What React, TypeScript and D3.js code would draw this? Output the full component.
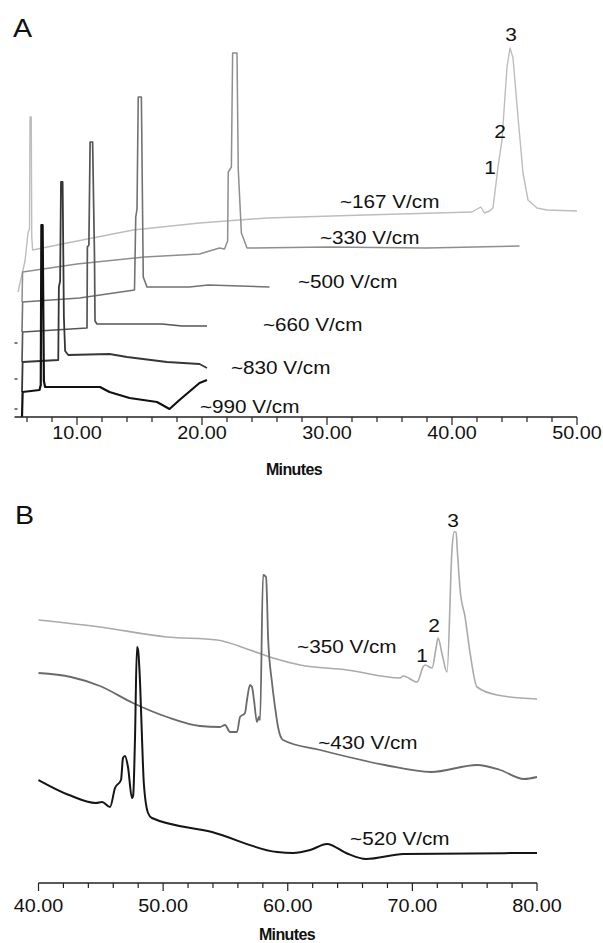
import React from "react";
import * as d3 from "d3";

// ---------- Panel A data: [minutes, signal] ----------
const traceA167: [number, number][] = [
  [5.28, 31.25], [5.84, 39], [6.08, 46], [6.2, 47], [6.24, 75], [6.34, 75], [6.38, 45], [6.45, 41.75],
  [9.2, 43.5], [14.5, 46.75], [19.8, 48.5], [25.2, 49.75], [33, 50.5], [41.6, 51.25], [42.3, 52.5],
  [42.6, 51], [43.0, 51.5], [43.28, 52.25], [43.68, 62.5], [44.0, 69.25], [44.4, 87.5], [44.64, 92.25],
  [44.88, 89.75], [45.28, 75], [45.68, 61], [46.08, 54.25], [46.8, 52.25], [47.6, 51.75], [50.0, 51.5],
];
const traceA330: [number, number][] = [
  [5.6, 28.75], [5.65, 36.25], [10, 38.25], [15.4, 40], [19.8, 40.75], [21.4, 42.25], [21.8, 42],
  [22.05, 44], [22.1, 61.25], [22.35, 62.5], [22.45, 91], [22.8, 91], [22.9, 62], [23.15, 46],
  [23.6, 42.25], [30, 42.5], [38, 42.25], [45.4, 42.75],
];
const traceA500: [number, number][] = [
  [5.6, 21.25], [5.65, 28.75], [10.2, 29.75], [14.6, 31.75], [14.7, 50], [14.8, 52], [14.9, 80],
  [15.15, 80], [15.25, 50], [15.3, 35], [15.6, 32.5], [19, 32.5], [20.5, 33], [25.4, 32.5],
];
const traceA660: [number, number][] = [
  [5.6, 13.75], [5.65, 21.25], [10.8, 22.25], [10.83, 42.5], [10.95, 43], [11.05, 68.75], [11.25, 68.75],
  [11.4, 40], [11.44, 24], [11.6, 23.25], [16.8, 23.25], [18.4, 22.75], [20.4, 22.75],
];
const traceA830: [number, number][] = [
  [5.6, 6.25], [5.65, 13.75], [8.5, 14.25], [8.55, 32.5], [8.65, 34], [8.72, 58.75], [8.85, 58.75],
  [8.95, 25], [9.05, 16.5], [9.3, 15.5], [12.6, 15.75], [14.0, 15], [17.2, 13.75], [19.8, 13.25], [20.4, 12.25],
];
const traceA990: [number, number][] = [
  [5.6, 0], [5.65, 6.25], [7.0, 6.75], [7.1, 8], [7.15, 48], [7.25, 48], [7.35, 9], [7.45, 7.5],
  [11.84, 7.5], [12.6, 6.25], [14.2, 4.75], [16.4, 3.75], [17.4, 2], [18.2, 4.25], [19.8, 8.5], [20.4, 9.25],
];
const leftMarksA = [2, 9.5, 18.5];

// ---------- Panel B data ----------
const traceB350: [number, number][] = [
  [40, 65.75], [44.93, 64], [50.31, 61.5], [54.33, 60.75], [56.97, 58.25], [58.82, 56.25], [60.99, 54.5],
  [64.76, 53.25], [69.02, 51.25], [69.26, 51.75], [70.38, 50.25], [70.86, 54], [71.02, 54.5], [71.58, 53.75],
  [71.9, 58.75], [72.06, 61.25], [72.4, 57], [72.78, 52.75], [73.19, 84], [73.35, 87.75], [73.51, 87.75],
  [73.59, 84], [73.83, 73.25], [74.23, 66.5], [74.63, 57.5], [75.19, 49], [76.8, 47], [80, 46],
];
const traceB430: [number, number][] = [
  [40, 52.5], [42.6, 51.5], [44.93, 49.25], [47.58, 45], [50.31, 41.5], [52.95, 39.25], [54.56, 39],
  [54.97, 39.5], [55.37, 37.75], [55.93, 37.75], [56.17, 41.5], [56.57, 42.5], [56.73, 45.75], [56.97, 49.5],
  [57.13, 49], [57.29, 45.75], [57.53, 40.25], [57.69, 41.5], [57.78, 40.75], [58.02, 77], [58.26, 76.5],
  [58.34, 70.75], [58.42, 61.5], [58.74, 50], [58.98, 44], [59.22, 39], [59.62, 35.75], [62.6, 33.25],
  [67.8, 29.5], [71.5, 27.75], [75.2, 29.5], [77.04, 28.25], [78.96, 26], [80, 26.5],
];
const traceB520: [number, number][] = [
  [40, 25.75], [42.45, 22], [44.61, 20], [45.1, 20.25], [45.74, 19], [46.14, 23.75], [46.62, 25.75],
  [46.78, 31.25], [46.94, 31.75], [47.18, 29], [47.5, 21.25], [47.6, 22], [47.74, 35.75], [47.9, 59],
  [47.99, 58.25], [48.15, 50], [48.31, 35.75], [48.45, 25], [48.79, 17.5], [49.1, 16.25], [53.92, 12.75],
  [59.14, 7.75], [60.43, 7.5], [61.8, 8.25], [63.15, 9.75], [64.68, 7.5], [66.28, 6], [69.3, 7.25], [80, 7.5],
];

// ---------- Axis ticks / labels ----------
const tickLabelsA = [10, 20, 30, 40, 50];
const tickLabelsB = [40, 50, 60, 70, 80];
const seriesNamesA = ["~167 V/cm", "~330 V/cm", "~500 V/cm", "~660 V/cm", "~830 V/cm", "~990 V/cm"];
const seriesNamesB = ["~350 V/cm", "~430 V/cm", "~520 V/cm"];
const peakNames = ["1", "2", "3"];

// annotation anchors (minutes, signal)
const nameAnchorsA: [number, number][] = [[31.04, 53.75], [29.44, 44.75], [27.68, 33.75], [24.88, 23], [22.32, 12.25], [19.84, 2.5]];
const peakAnchorsA: [number, number][] = [[43.04, 62.5], [43.84, 71.5], [44.72, 95.75]];
const nameAnchorsB: [number, number][] = [[60.75, 59.1], [62.44, 35], [65.0, 11]];
const peakAnchorsB: [number, number][] = [[70.78, 57], [71.74, 64.5], [73.27, 90.75]];

const FONT = "'Liberation Sans', Arial, Helvetica, sans-serif";
const fmt = d3.format(".2f");

const colorsA = ["#bdbdbd", "#8e8e8e", "#727272", "#565656", "#363636", "#111111"];
const colorsB = ["#aaaaaa", "#6a6a6a", "#151515"];

function Stretch({ x, y, children, size = 18, anchor = "start", sx = 1.15, weight = "normal", ls = 0 }: any) {
  return (
    <text
      transform={`translate(${x},${y}) scale(${sx},1)`}
      fontFamily={FONT}
      fontSize={size}
      fontWeight={weight}
      letterSpacing={ls}
      textAnchor={anchor}
      dominantBaseline="central"
      fill="#111"
    >
      {children}
    </text>
  );
}

export default function App() {
  const xA = d3.scaleLinear().domain([5, 50]).range([14.5, 577]);
  const yA = d3.scaleLinear().domain([0, 100]).range([417, 17]);
  const xB = d3.scaleLinear().domain([40, 80]).range([38.5, 537]);
  const yB = d3.scaleLinear().domain([0, 100]).range([883, 483]);

  const lineA = d3.line<[number, number]>().x((d) => xA(d[0])).y((d) => yA(d[1]));
  const lineB = d3
    .line<[number, number]>()
    .x((d) => xB(d[0]))
    .y((d) => yB(d[1]))
    .curve(d3.curveMonotoneX);

  const tracesA = [traceA167, traceA330, traceA500, traceA660, traceA830, traceA990];
  const tracesB = [traceB350, traceB430, traceB520];
  const widthsA = [1.4, 1.5, 1.6, 1.7, 1.8, 2.2];
  const widthsB = [1.6, 1.8, 2.0];

  const ticksA = d3.range(6, 51, 2);
  const ticksB = d3.range(40, 81, 2);

  return (
    <svg
      width={603}
      height={943}
      style={{ position: "absolute", left: 0, top: 0, background: "#fff" }}
    >
      <rect x={0} y={0} width={603} height={943} fill="#fff" />
      {/* Panel A */}
      <Stretch x={13} y={28} size={26} sx={1.1}>A</Stretch>
      {tracesA.map((t, i) => (
        <path key={i} d={lineA(t) || ""} fill="none" stroke={colorsA[i]} strokeWidth={widthsA[i]} strokeLinejoin="round" />
      ))}
      {leftMarksA.map((v, i) => (
        <line key={i} x1={xA(5)} x2={xA(5) + 3} y1={yA(v)} y2={yA(v)} stroke="#222" strokeWidth={1.2} />
      ))}
      <line x1={xA(5)} x2={xA(50)} y1={yA(0)} y2={yA(0)} stroke="#222" strokeWidth={1.4} />
      {ticksA.map((v) => (
        <line key={v} x1={xA(v)} x2={xA(v)} y1={yA(0)} y2={yA(0) + (v % 10 === 0 ? 8 : 5)} stroke="#222" strokeWidth={1.2} />
      ))}
      {tickLabelsA.map((v) => (
        <Stretch key={v} x={xA(v)} y={433} anchor="middle" sx={1.1}>{fmt(v)}</Stretch>
      ))}
      <Stretch x={294} y={469} anchor="middle" size={16} sx={1} weight="bold" ls={-0.6}>Minutes</Stretch>
      {seriesNamesA.map((n, i) => (
        <Stretch key={n} x={xA(nameAnchorsA[i][0])} y={yA(nameAnchorsA[i][1])}>{n}</Stretch>
      ))}
      {peakNames.map((n, i) => (
        <Stretch key={n} x={xA(peakAnchorsA[i][0])} y={yA(peakAnchorsA[i][1])} anchor="middle" size={19} sx={1.1}>{n}</Stretch>
      ))}

      {/* Panel B */}
      <Stretch x={15} y={515} size={26} sx={1.1}>B</Stretch>
      {tracesB.map((t, i) => (
        <path key={i} d={lineB(t) || ""} fill="none" stroke={colorsB[i]} strokeWidth={widthsB[i]} strokeLinejoin="round" />
      ))}
      <line x1={xB(40)} x2={xB(80)} y1={yB(0)} y2={yB(0)} stroke="#222" strokeWidth={1.4} />
      {ticksB.map((v) => (
        <line key={v} x1={xB(v)} x2={xB(v)} y1={yB(0)} y2={yB(0) + (v % 10 === 0 ? 8 : 5)} stroke="#222" strokeWidth={1.2} />
      ))}
      {tickLabelsB.map((v) => (
        <Stretch key={v} x={xB(v)} y={906} anchor="middle" sx={1.1}>{fmt(v)}</Stretch>
      ))}
      <Stretch x={287} y={934} anchor="middle" size={16} sx={1} weight="bold" ls={-0.6}>Minutes</Stretch>
      {seriesNamesB.map((n, i) => (
        <Stretch key={n} x={xB(nameAnchorsB[i][0])} y={yB(nameAnchorsB[i][1])}>{n}</Stretch>
      ))}
      {peakNames.map((n, i) => (
        <Stretch key={n} x={xB(peakAnchorsB[i][0])} y={yB(peakAnchorsB[i][1])} anchor="middle" size={19} sx={1.1}>{n}</Stretch>
      ))}
    </svg>
  );
}
